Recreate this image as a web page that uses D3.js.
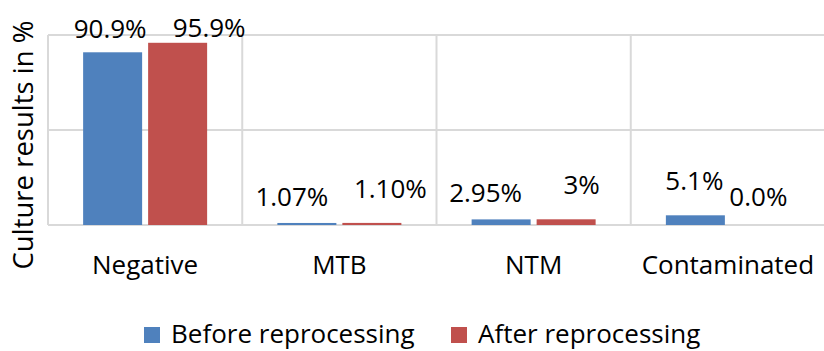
<!DOCTYPE html>
<html><head><meta charset="utf-8">
<script src="https://cdn.jsdelivr.net/npm/d3@7"></script>
<style>body{margin:0;background:#fff}svg{display:block}</style>
</head><body><svg id="c" width="824" height="351"></svg>
<script>
const categories = ["Negative", "MTB", "NTM", "Contaminated"];
const seriesNames = ["Before reprocessing", "After reprocessing"];
const before = [90.9, 1.07, 2.95, 5.1];
const after = [95.9, 1.10, 3.0, 0.0];
const beforeLabels = ["90.9%", "1.07%", "2.95%", "5.1%"];
const afterLabels = ["95.9%", "1.10%", "3%", "0.0%"];
const yTicks = [0, 50, 100];
// label offsets (dx, dy) relative to bar centre / bar top — layout only
const beforeOffsets = [[-2.5, -14], [-15, -17], [-15.5, -17.5], [-1, -25]];
const afterOffsets = [[31.5, -6], [18.5, -25], [15.5, -25], [-2, -19]];

const colors = ["#4F81BD", "#C0504D"];
const svg = d3.select("#c");
const font = "'Open Sans', sans-serif";
const m = {l: 48, r: -1, t: 35, b: 126};
const W = 824, H = 351;
const x = d3.scaleBand().domain(categories).range([m.l, W - m.r]).paddingInner(0).paddingOuter(0);
const y = d3.scaleLinear().domain([0, 100]).range([H - m.b, m.t]);
const groupW = 124;
const xs = d3.scaleBand().domain([0, 1]).range([0, groupW]).paddingInner(6 / 65);
const grid = "#d9d9d9";

// horizontal gridlines
svg.append("g").selectAll("line").data(yTicks).join("line")
  .attr("x1", m.l).attr("x2", W).attr("y1", d => y(d)).attr("y2", d => y(d))
  .attr("stroke", grid).attr("stroke-width", 2);
// vertical lines (category boundaries)
const bounds = categories.map(c => x(c));
svg.append("g").selectAll("line").data(bounds).join("line")
  .attr("x1", d => d).attr("x2", d => d).attr("y1", y(100)).attr("y2", y(0))
  .attr("stroke", grid).attr("stroke-width", 2);

const series = [before, after];
const labels = [beforeLabels, afterLabels];
const offsets = [beforeOffsets, afterOffsets];
series.forEach((vals, si) => {
  const g = svg.append("g");
  const bx = (i) => x(categories[i]) + (x.bandwidth() - groupW) / 2 + xs(si);
  g.selectAll("rect").data(vals).join("rect")
    .attr("x", (d, i) => bx(i)).attr("width", xs.bandwidth())
    .attr("y", d => y(d)).attr("height", d => y(0) - y(d))
    .attr("fill", colors[si]);
  g.selectAll("text").data(vals).join("text")
    .attr("x", (d, i) => bx(i) + xs.bandwidth() / 2 + offsets[si][i][0])
    .attr("y", (d, i) => y(d) + offsets[si][i][1])
    .attr("text-anchor", "middle").attr("font-family", font).attr("font-size", 26)
    .attr("fill", "#000").text((d, i) => labels[si][i]);
});

// x axis labels
const xAxis = d3.axisBottom(x).tickSize(0).tickPadding(0);
const ax = svg.append("g").attr("transform", `translate(0,${y(0)})`).call(xAxis);
ax.select(".domain").remove();
ax.selectAll("text").attr("font-family", font).attr("font-size", 26).attr("fill", "#000")
  .attr("dy", null).attr("y", 49);

// y title
svg.append("text").attr("transform", "translate(33,145) rotate(-90)")
  .attr("text-anchor", "middle").attr("font-family", font).attr("font-size", 27.5)
  .attr("fill", "#000").text("Culture results in %");

// legend
const leg = svg.append("g");
const legX = [144, 451];
seriesNames.forEach((n, i) => {
  leg.append("rect").attr("x", legX[i]).attr("y", 327).attr("width", 16).attr("height", 16).attr("fill", colors[i]);
  leg.append("text").attr("x", legX[i] + 27).attr("y", 343).attr("font-family", font)
    .attr("font-size", 26).attr("fill", "#000").text(n);
});
</script></body></html>
